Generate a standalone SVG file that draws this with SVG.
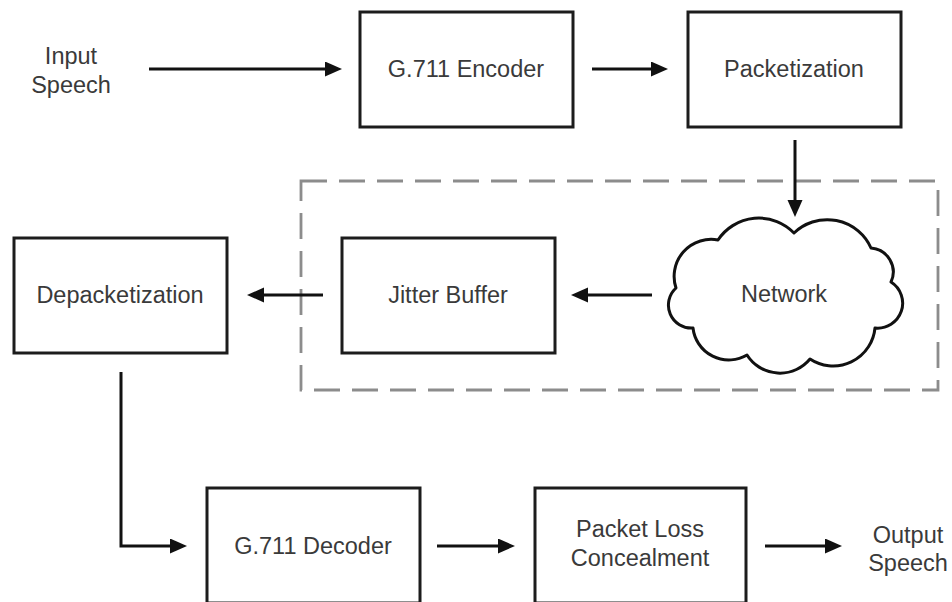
<svg xmlns="http://www.w3.org/2000/svg" width="952" height="602" viewBox="0 0 952 602">
  <defs>
    <marker id="arrow" markerUnits="userSpaceOnUse" markerWidth="20" markerHeight="18" refX="7" refY="7.5" orient="auto">
      <path d="M0,0 L17,7.5 L0,15 Z" fill="#111"/>
    </marker>
    <style>
      .box { fill: #fff; stroke: #1c1c1c; stroke-width: 3; }
      .cloud { fill: #fff; stroke: #111; stroke-width: 3; stroke-linejoin: round; }
      .group { fill: none; stroke: #8c8c8c; stroke-width: 2.8; stroke-dasharray: 26 12; }
      .lbl { font-family: "Liberation Sans", Arial, sans-serif; font-size: 23.5px; fill: #3a3a3a; text-anchor: middle; }
      .link { fill: none; stroke: #111; stroke-width: 3; marker-end: url(#arrow); }
    </style>
  </defs>
  <rect width="952" height="602" fill="#fff"/>

  <!-- network region boundary -->
  <rect id="network-region" class="group" x="301" y="181" width="637" height="209"/>

  <g id="input-speech">
    <text class="lbl" x="71" y="64">Input</text>
    <text class="lbl" x="71" y="93">Speech</text>
  </g>

  <g id="encoder">
    <rect class="box" x="360" y="12" width="213" height="115"/>
    <text class="lbl" x="466" y="77">G.711 Encoder</text>
  </g>

  <g id="packetization">
    <rect class="box" x="688" y="12" width="213" height="115"/>
    <text class="lbl" x="794" y="77">Packetization</text>
  </g>

  <g id="network">
    <path class="cloud" d="M794,233
      A48,48 0 0 1 871,248
      A24,24 0 0 1 891,282
      A25,25 0 0 1 875,328
      A42,42 0 0 1 810,359
      A39,39 0 0 1 747,355
      A36,36 0 0 1 693,328
      A23,23 0 0 1 676,288
      A37,37 0 0 1 718,240
      A49,49 0 0 1 794,233 Z"/>
    <text class="lbl" x="784" y="302">Network</text>
  </g>

  <g id="jitter-buffer">
    <rect class="box" x="342" y="238" width="213" height="115"/>
    <text class="lbl" x="448" y="303">Jitter Buffer</text>
  </g>

  <g id="depacketization">
    <rect class="box" x="14" y="238" width="213" height="115"/>
    <text class="lbl" x="120" y="303">Depacketization</text>
  </g>

  <g id="decoder">
    <rect class="box" x="207" y="488" width="213" height="115"/>
    <text class="lbl" x="313" y="554">G.711 Decoder</text>
  </g>

  <g id="plc">
    <rect class="box" x="535" y="488" width="211" height="115"/>
    <text class="lbl" x="640" y="537">Packet Loss</text>
    <text class="lbl" x="640" y="566">Concealment</text>
  </g>

  <g id="output-speech">
    <text class="lbl" x="908" y="543">Output</text>
    <text class="lbl" x="908" y="571">Speech</text>
  </g>

  <g id="connectors">
    <line class="link" x1="149" y1="69" x2="332" y2="69"/>
    <line class="link" x1="592" y1="69" x2="658" y2="69"/>
    <line class="link" x1="795" y1="140" x2="795" y2="207"/>
    <line class="link" x1="652" y1="295" x2="581" y2="295"/>
    <line class="link" x1="323" y1="295" x2="257" y2="295"/>
    <polyline class="link" points="121,372 121,546 177,546"/>
    <line class="link" x1="437" y1="546" x2="505" y2="546"/>
    <line class="link" x1="765" y1="546" x2="832" y2="546"/>
  </g>
</svg>
